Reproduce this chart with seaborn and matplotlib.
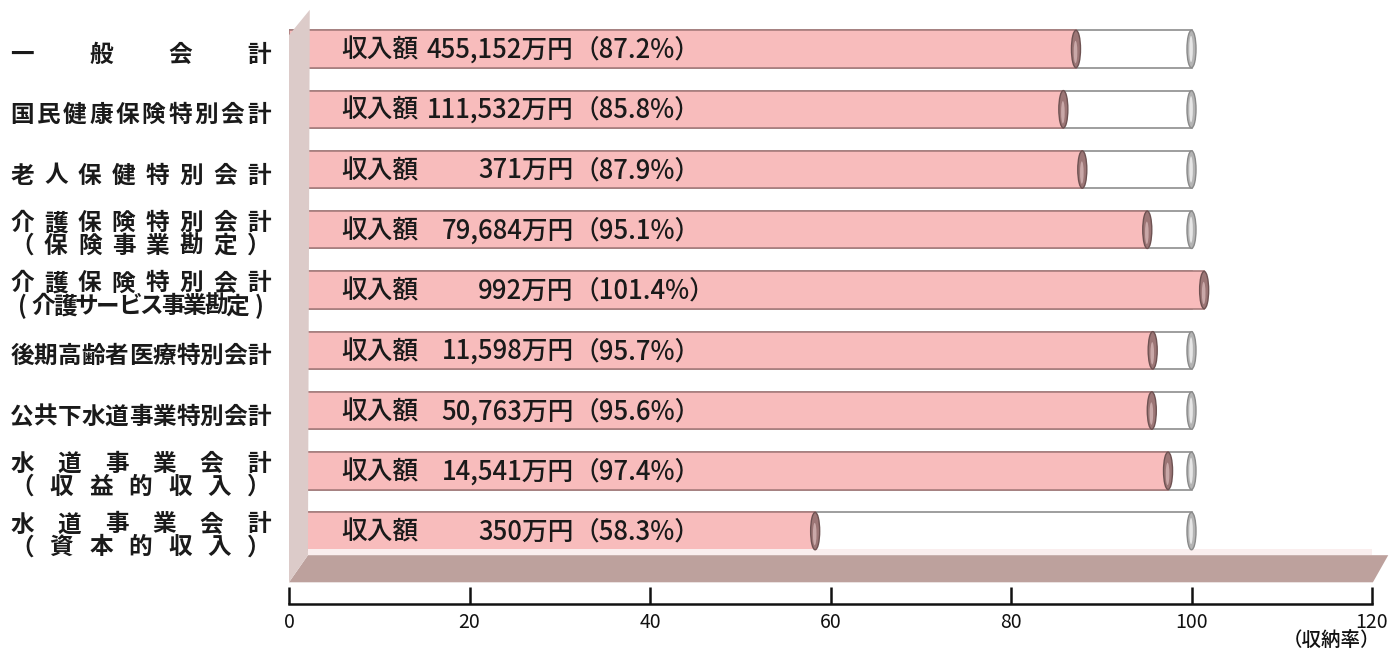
import numpy as np
import pandas as pd
import matplotlib
matplotlib.use('Agg')
import matplotlib.pyplot as plt
import matplotlib.transforms as mtransforms
from matplotlib.patches import Polygon, Ellipse
import seaborn as sns

# ── data ──────────────────────────────────────────────
accounts = [
    '一般会計',
    '国民健康保険特別会計',
    '老人保健特別会計',
    '介護保険特別会計\n（保険事業勘定）',
    '介護保険特別会計\n（介護サービス事業勘定）',
    '後期高齢者医療特別会計',
    '公共下水道事業特別会計',
    '水道事業会計\n（収益的収入）',
    '水道事業会計\n（資本的収入）',
]
# label lines as drawn (evenly spread characters)
label_lines = [
    ['一般会計'],
    ['国民健康保険特別会計'],
    ['老人保健特別会計'],
    ['介護保険特別会計', '（保険事業勘定）'],
    ['介護保険特別会計', '(介護サービス事業勘定)'],
    ['後期高齢者医療特別会計'],
    ['公共下水道事業特別会計'],
    ['水道事業会計', '（収益的収入）'],
    ['水道事業会計', '（資本的収入）'],
]
income = ['455,152', '111,532', '371', '79,684', '992', '11,598', '50,763', '14,541', '350']
rate = [87.2, 85.8, 87.9, 95.1, 101.4, 95.7, 95.6, 97.4, 58.3]
full = [100] * len(accounts)
x_ticks = [0, 20, 40, 60, 80, 100, 120]

df = pd.DataFrame({'account': accounts, 'rate': rate, 'full': full})

# ── style ─────────────────────────────────────────────
sns.set_style('white')
plt.rcParams['font.family'] = ['Noto Sans CJK JP', 'DejaVu Sans']

PINK = '#f8bcbc'
PINK_EDGE = '#a87c7c'
WALL = '#dccbc9'
FLOOR = '#bda19d'
INK = '#1a1a1a'

W, H = 1389, 655
fig = plt.figure(figsize=(W / 100, H / 100), dpi=100)
ax = fig.add_axes([289 / W, 1 - 604 / H, (1372 - 289) / W, 599 / H])

bar_h = 0.62
sns.barplot(data=df, x='full', y='account', orient='h', color='white',
            saturation=1, width=bar_h, edgecolor='#8e8e8e', linewidth=1.2, ax=ax)
sns.barplot(data=df, x='rate', y='account', orient='h', color=PINK,
            saturation=1, width=bar_h, edgecolor=PINK_EDGE, linewidth=1.2, ax=ax)

ax.set_xlim(0, 120)
ax.set_ylim(9.21, -0.73)

# end caps of the cylinders
for i, r in enumerate(rate):
    if r < 100:
        ax.add_patch(Ellipse((100, i), 1.0, bar_h, facecolor='#b4b4b4',
                             edgecolor='#8a8a8a', lw=1, zorder=4))
        ax.add_patch(Ellipse((99.95, i), 0.4, bar_h * 0.7, facecolor='#e6e6e6',
                             edgecolor='none', zorder=4))
    ax.add_patch(Ellipse((r, i), 1.0, bar_h, facecolor='#9c7676',
                         edgecolor='#6e5252', lw=1, zorder=5))
    ax.add_patch(Ellipse((r - 0.05, i + 0.05), 0.4, bar_h * 0.6, facecolor='#c9a8a8',
                         edgecolor='none', zorder=5))

# texts inside the bars
for i, (amt, r) in enumerate(zip(income, rate)):
    ax.text(5.75, i + 0.02, '収入額', ha='left', va='center', fontsize=18.5,
            fontweight='medium', color=INK, zorder=6)
    ax.text(31.55, i + 0.02, f'{amt}万円', ha='right', va='center', fontsize=18.5,
            fontweight='medium', color=INK, zorder=6)
    ax.text(31.5, i + 0.02, f'（{r:.1f}%）', ha='left', va='center', fontsize=18.5,
            fontweight='medium', color=INK, zorder=6)

# light strip, floor and side wall
ax.add_patch(Polygon([[2.1, 8.29], [121.8, 8.29], [121.8, 8.40], [2.1, 8.40]],
                     closed=True, facecolor='#faeeee', edgecolor='none', zorder=1))
ax.add_patch(Polygon([[2.1, 8.40], [121.8, 8.40], [120.1, 8.85], [0, 8.85]],
                     closed=True, facecolor=FLOOR, edgecolor='none', zorder=7,
                     clip_on=False))
ax.add_patch(Polygon([[0, -0.23], [2.3, -0.65], [2.1, 8.40], [0, 8.85]],
                     closed=True, facecolor=WALL, edgecolor='none', zorder=7,
                     clip_on=False))

# axis styling
sns.despine(ax=ax, left=True, top=True, right=True)
ax.spines['bottom'].set_linewidth(1.8)
ax.spines['bottom'].set_color('#111111')
ax.set_xticks(x_ticks)
ax.set_xticklabels([str(t) for t in x_ticks])
ax.tick_params(axis='x', bottom=True, direction='in', length=12, width=1.8, pad=6,
               colors='#111111', labelsize=14)
ax.set_yticks([])
ax.set_xlabel('')
ax.set_ylabel('')
fig.text(1380 / W, 1 - 640 / H, '（収納率）', ha='right', va='center', fontsize=14,
         fontweight='medium', color='#111111')

# category labels, characters spread over a fixed width
trans = mtransforms.blended_transform_factory(fig.transFigure, ax.transData)
x_first, x_last = 22 / W, 259 / W
for i, lines in enumerate(label_lines):
    if len(lines) == 1:
        ys = [i + 0.1]
    else:
        ys = [i + 0.08 - 0.19, i + 0.08 + 0.19]
    for line, yy in zip(lines, ys):
        n = len(line)
        xs = np.linspace(x_first, x_last, n)
        for ch, xx in zip(line, xs):
            fig.text(xx, yy, ch, transform=trans, ha='center', va='center',
                     fontsize=17, fontweight='bold', color=INK)

plt.savefig('out.png', dpi=100)
